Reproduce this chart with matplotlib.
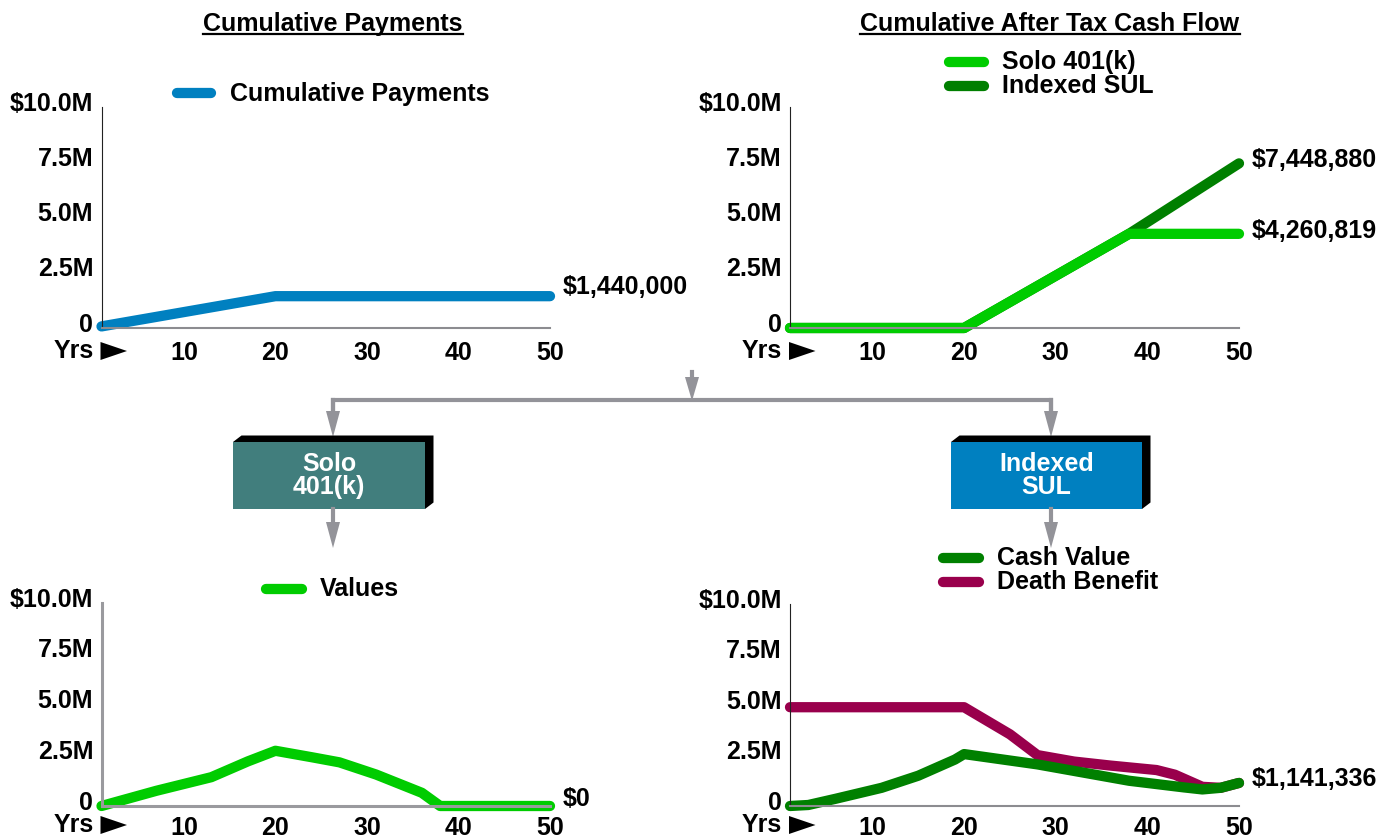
import matplotlib
matplotlib.use("Agg")
import matplotlib.pyplot as plt
from matplotlib.patches import Polygon, Rectangle
from matplotlib.transforms import ScaledTranslation

plt.rcParams['font.family'] = ['Liberation Sans', 'DejaVu Sans']
plt.rcParams['font.weight'] = 'bold'
plt.rcParams['font.size'] = 18

W, H = 1379, 838

# ---- data ----
x_ticks = [10, 20, 30, 40, 50]
y_ticks = [0, 2500000, 5000000, 7500000, 10000000]
y_tick_labels = ['0', '2.5M', '5.0M', '7.5M', '$10.0M']

pay_years = [1, 20, 50]
pay_values = [72000, 1440000, 1440000]

atcf_years = [1, 20, 38, 50]
solo_atcf = [0, 0, 4260819, 4260819]
sul_atcf = [0, 0, 4260819, 7448880]

solo_years = [1, 7, 13, 17, 20, 24, 27, 31, 36, 38, 50]
solo_values = [0, 750000, 1420000, 2200000, 2720000, 2400000, 2150000,
               1550000, 650000, 0, 0]

cv_years = [1, 3, 6, 11, 15, 19, 20, 28, 38, 44, 46, 48, 50]
cv_values = [0, 50000, 360000, 900000, 1500000, 2300000, 2570000, 2060000,
             1250000, 920000, 820000, 900000, 1141336]
db_years = [1, 20, 25, 28, 32, 36, 41, 43, 46, 48, 50]
db_values = [4890000, 4890000, 3550000, 2520000, 2200000, 2000000, 1780000,
             1550000, 950000, 900000, 1141336]

blue = '#0080c0'
bright_green = '#00cc00'
dark_green = '#007f00'
cv_green = '#008000'
maroon = '#99004c'
gray = '#939399'
LW = 7.4

fig = plt.figure(figsize=(W / 100, H / 100), dpi=100)


def px_box(l, t, r, b):
    return [l / W, 1 - b / H, (r - l) / W, (b - t) / H]


def setup(ax, gray_axes=False, xpad=9):
    ax.set_xlim(1, 50)
    ax.set_ylim(0, 10000000)
    ax.set_xticks(x_ticks)
    ax.set_xticklabels([str(t) for t in x_ticks])
    ax.set_yticks(y_ticks)
    ax.set_yticklabels(y_tick_labels)
    ax.spines['top'].set_visible(False)
    ax.spines['right'].set_visible(False)
    if gray_axes:
        ax.spines['left'].set_color('#9a9a9e')
        ax.spines['left'].set_linewidth(2.2)
        ax.spines['bottom'].set_color('#9a9a9e')
        ax.spines['bottom'].set_linewidth(2.2)
    else:
        ax.spines['left'].set_color('#222222')
        ax.spines['left'].set_linewidth(0.8)
        ax.spines['bottom'].set_color('#8c8c90')
        ax.spines['bottom'].set_linewidth(1.5)
    ax.tick_params(axis='both', length=0, labelsize=18)
    ax.tick_params(axis='y', pad=6)
    ax.tick_params(axis='x', pad=xpad)
    for lab in ax.get_yticklabels():
        lab.set_transform(lab.get_transform() +
                          ScaledTranslation(0, 0.06, fig.dpi_scale_trans))


def end_label(ax, x, y, text, dy):
    ax.annotate(text, xy=(x, y), xytext=(13 * 0.72, -dy * 0.72),
                textcoords='offset points', ha='left', va='center',
                fontsize=18, fontweight='bold', annotation_clip=False)


def draw(ax, xs, ys, color):
    ax.plot(xs, ys, color=color, lw=LW, solid_capstyle='round',
            solid_joinstyle='round', clip_on=False)


ax1 = fig.add_axes(px_box(101.5, 107, 550, 328))
ax2 = fig.add_axes(px_box(790, 107, 1239, 328))
ax3 = fig.add_axes(px_box(101.5, 603, 550, 806))
ax4 = fig.add_axes(px_box(790, 604, 1239, 806))

setup(ax1)
setup(ax2)
setup(ax3, gray_axes=True, xpad=7)
setup(ax4, xpad=7)

draw(ax1, pay_years, pay_values, blue)
end_label(ax1, pay_years[-1], pay_values[-1], '$1,440,000', -9)

draw(ax2, atcf_years, sul_atcf, dark_green)
draw(ax2, atcf_years, solo_atcf, bright_green)
end_label(ax2, atcf_years[-1], sul_atcf[-1], '$7,448,880', -3)
end_label(ax2, atcf_years[-1], solo_atcf[-1], '$4,260,819', -3)

draw(ax3, solo_years, solo_values, bright_green)
end_label(ax3, solo_years[-1], solo_values[-1], '$0', -7)

draw(ax4, db_years, db_values, maroon)
draw(ax4, cv_years, cv_values, cv_green)
end_label(ax4, cv_years[-1], cv_values[-1], '$1,141,336', -4)

# ---- overlay in pixel coordinates ----
ov = fig.add_axes([0, 0, 1, 1])
ov.set_xlim(0, W)
ov.set_ylim(H, 0)
ov.axis('off')

# titles
titles = []
for cx, txt in [(333, 'Cumulative Payments'), (1050, 'Cumulative After Tax Cash Flow')]:
    titles.append(ov.text(cx, 31, txt, ha='center', va='baseline', fontsize=18))

# Yrs labels with arrow
for left, base in [(101.5, 351), (790, 351), (101.5, 825), (790, 825)]:
    ov.text(left - 8, base, 'Yrs', ha='right', va='center', fontsize=18)
    ov.add_patch(Polygon([[left - 1, base - 9], [left - 1, base + 9],
                          [left + 25.5, base]], closed=True,
                         facecolor='black', edgecolor='none'))

# legends
legends = [
    (177, 211, [(93.5, blue, 'Cumulative Payments')], 230),
    (949, 984, [(62.3, bright_green, 'Solo 401(k)'),
                (85.9, dark_green, 'Indexed SUL')], 1002),
    (266, 302, [(589.4, bright_green, 'Values')], 320),
    (943, 979, [(558.4, cv_green, 'Cash Value'),
                (581.8, maroon, 'Death Benefit')], 997),
]
for x0, x1, entries, tx in legends:
    for y, c, lab in entries:
        ov.plot([x0, x1], [y, y], color=c, lw=LW, solid_capstyle='round')
        ov.text(tx, y, lab, ha='left', va='center', fontsize=18)


# flow diagram
def arrow_down(x, y0, y1):
    head = 26
    ov.plot([x, x], [y0, y1 - head + 2], color=gray, lw=3)
    ov.add_patch(Polygon([[x - 7, y1 - head], [x + 7, y1 - head], [x, y1]],
                         closed=True, facecolor=gray, edgecolor='none'))


ov.plot([333, 333, 1051, 1051], [412, 400, 400, 412], color=gray, lw=3,
        solid_joinstyle='miter')
ov.plot([692, 692], [372, 378], color=gray, lw=3)
ov.add_patch(Polygon([[685, 377], [699, 377], [692, 401]], closed=True,
                     facecolor=gray, edgecolor='none'))
arrow_down(333, 400, 437)
arrow_down(1051, 400, 437)
arrow_down(333, 509, 548)
arrow_down(1051, 509, 548)


def block(l, r, t, b, face, text):
    dx, dy = 8.5, 6.5
    ov.add_patch(Polygon([[l, t], [l + dx, t - dy], [r + dx, t - dy],
                          [r + dx, b - dy], [r, b], [r, t]], closed=True,
                         facecolor='black', edgecolor='none'))
    ov.add_patch(Rectangle((l, t), r - l, b - t, facecolor=face,
                           edgecolor='none'))
    ov.text((l + r) / 2, (t + b) / 2, text, ha='center', va='center',
            color='white', fontsize=18, linespacing=0.95)


block(233, 425, 442, 509, '#417e7d', 'Solo\n401(k)')
block(951, 1142, 442, 509, blue, 'Indexed\nSUL')

# underline titles
fig.canvas.draw()
inv = ov.transData.inverted()
for t in titles:
    bb = t.get_window_extent()
    (xa, _), (xb, _) = inv.transform([[bb.x0, bb.y0], [bb.x1, bb.y0]])
    ov.plot([xa, xb], [34, 34], color='black', lw=1.6)

fig.savefig('out.png', dpi=100)
